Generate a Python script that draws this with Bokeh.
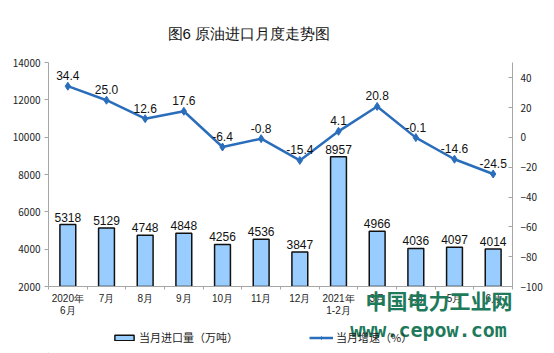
from bokeh.plotting import figure
from bokeh.layouts import column
from bokeh.models import (Range1d, LinearAxis, FixedTicker, Label, Legend, LegendItem,
                          ColumnDataSource)
from bokeh.core.properties import value
from bokeh.embed import file_html
from bokeh.resources import INLINE

categories = ["2020年\n6月", "7月", "8月", "9月", "10月", "11月", "12月",
              "2021年\n1-2月", "3月", "4月", "5月", "6月"]
imports = [5318, 5129, 4748, 4848, 4256, 4536, 3847, 8957, 4966, 4036, 4097, 4014]
growth = [34.4, 25.0, 12.6, 17.6, -6.4, -0.8, -15.4, 4.1, 20.8, -0.1, -14.6, -24.5]
left_ticks = [2000, 4000, 6000, 8000, 10000, 12000, 14000]
right_ticks = [-100, -80, -60, -40, -20, 0, 20, 40]

xs = list(range(1, len(categories) + 1))
src = ColumnDataSource(dict(
    x=xs, imp=imports, gr=growth,
    imp_lbl=[str(v) for v in imports],
    gr_lbl=[f"{v:.1f}" for v in growth],
))

CJK = "Noto Sans CJK SC"
LAT = "Liberation Sans"
axis_col = "#a6a6a6"
line_col = "#2a6ebb"
bar_fill = "#99ccff"
wm_col = "#1e7a5a"

p = figure(width=554, height=318, output_backend="svg", toolbar_location=None,
           x_range=Range1d(0.5, len(categories) + 0.5),
           y_range=Range1d(2000, 14000),
           min_border_left=48, min_border_right=42, min_border_top=62, min_border_bottom=32)
p.outline_line_color = None
p.grid.grid_line_color = None
p.background_fill_color = "white"
p.border_fill_color = "white"

# title
p.title.text = "图6  原油进口月度走势图"
p.title.align = "left"
p.title.offset = 119
p.title.standoff = 42
p.title.text_font = LAT
p.title.text_font_size = "15px"
p.title.text_font_style = "normal"
p.title.text_color = "#111111"

p.extra_y_ranges = {"pct": Range1d(-100, 50.3)}

# left axis
yax = p.yaxis[0]
yax.ticker = FixedTicker(ticks=left_ticks)
yax.axis_line_color = axis_col
yax.major_tick_line_color = axis_col
yax.major_tick_out = 4
yax.major_tick_in = 0
yax.minor_tick_line_color = None
yax.major_label_text_font = CJK
yax.major_label_text_font_size = "10px"
yax.major_label_text_color = "#222222"
yax.major_label_standoff = 4

# right axis
rax = LinearAxis(y_range_name="pct", ticker=FixedTicker(ticks=right_ticks))
rax.axis_line_color = axis_col
rax.major_tick_line_color = axis_col
rax.major_tick_out = 0
rax.major_tick_in = 4
rax.minor_tick_line_color = None
rax.major_label_text_font = CJK
rax.major_label_text_font_size = "10px"
rax.major_label_text_color = "#222222"
rax.major_label_standoff = 8
p.add_layout(rax, "right")

# x axis (its axis label carries the watermark's first line)
xax = p.xaxis[0]
xax.ticker = FixedTicker(ticks=xs, minor_ticks=[x + 0.5 for x in [0] + xs])
xax.major_label_overrides = {x: c for x, c in zip(xs, categories)}
xax.axis_line_color = axis_col
xax.major_tick_line_color = None
xax.major_tick_out = 0
xax.major_tick_in = 0
xax.minor_tick_line_color = axis_col
xax.minor_tick_out = 3
xax.minor_tick_in = 0
xax.major_label_text_font = LAT
xax.major_label_text_font_size = "10px"
xax.major_label_text_line_height = 1.15
xax.major_label_text_color = "#222222"
xax.major_label_standoff = 3
xax.axis_label = "中国电力工业网" + "\u3000" * 7
xax.axis_label_align = "end"
xax.axis_label_standoff = -34
xax.axis_label_text_font = CJK
xax.axis_label_text_font_size = "21px"
xax.axis_label_text_font_style = "bold"
xax.axis_label_text_color = wm_col

bars = p.vbar(x="x", top="imp", bottom=2000, width=0.41, source=src,
              fill_color=bar_fill, line_color="#111111", line_width=1.5)
p.text(x="x", y="imp", text="imp_lbl", source=src, text_align="center",
       text_baseline="bottom", y_offset=-3, text_font=value("Liberation Sans"),
       text_font_size="12px", text_color="#111111")

ln = p.line(x="x", y="gr", source=src, y_range_name="pct", line_color=line_col, line_width=2.5)
mk = p.scatter(x="x", y="gr", source=src, y_range_name="pct", marker="diamond", size=8,
               fill_color=line_col, line_color=line_col)
p.text(x="x", y="gr", text="gr_lbl", source=src, y_range_name="pct", text_align="center",
       text_baseline="bottom", y_offset=-6, text_font=value("Liberation Sans"),
       text_font_size="12px", text_color="#111111")

# bottom strip: watermark second line + legend (its frame is aligned with p's: x 48..512)
p2 = figure(width=554, height=35, output_backend="svg", toolbar_location=None,
            x_axis_type=None, y_axis_type=None, min_border=0,
            x_range=Range1d(0, 464), y_range=Range1d(0, 35))
p2.outline_line_color = None
p2.grid.grid_line_color = None
p2.background_fill_color = "white"
p2.border_fill_color = "white"

# legend swatches only (kept outside the visible range of the strip)
lb = p2.vbar(x=[-1000], top=[-1000], bottom=-1001, width=1, fill_color=bar_fill,
             line_color="#111111", line_width=1.5)
ll = p2.line(x=[-1000, -999], y=[-1000, -1000], line_color=line_col, line_width=2.5)
lm = p2.scatter(x=[-1000], y=[-1000], marker="diamond", size=6,
                fill_color=line_col, line_color=line_col)

p2.add_layout(Label(x=380, y=24, x_units="screen", y_units="screen",
                    text="www.cepow.com", text_font="DejaVu Sans Mono",
                    text_font_size="20px", text_font_style="bold", text_align="center",
                    text_baseline="alphabetic", text_color=wm_col))

legend = Legend(items=[LegendItem(label="当月进口量（万吨）", renderers=[lb]),
                       LegendItem(label="当月增速（%）", renderers=[ll, lm])],
                orientation="horizontal", location=(64, 8),
                label_text_font=CJK, label_text_font_size="11px", label_text_color="#222222",
                glyph_width=24, glyph_height=7, label_standoff=3, spacing=71,
                padding=0, margin=0, border_line_alpha=0, background_fill_alpha=0,
                label_height=14)
p2.add_layout(legend, "center")

layout = column(p, p2, spacing=0)
open("out.html", "w").write(file_html(layout, INLINE))
